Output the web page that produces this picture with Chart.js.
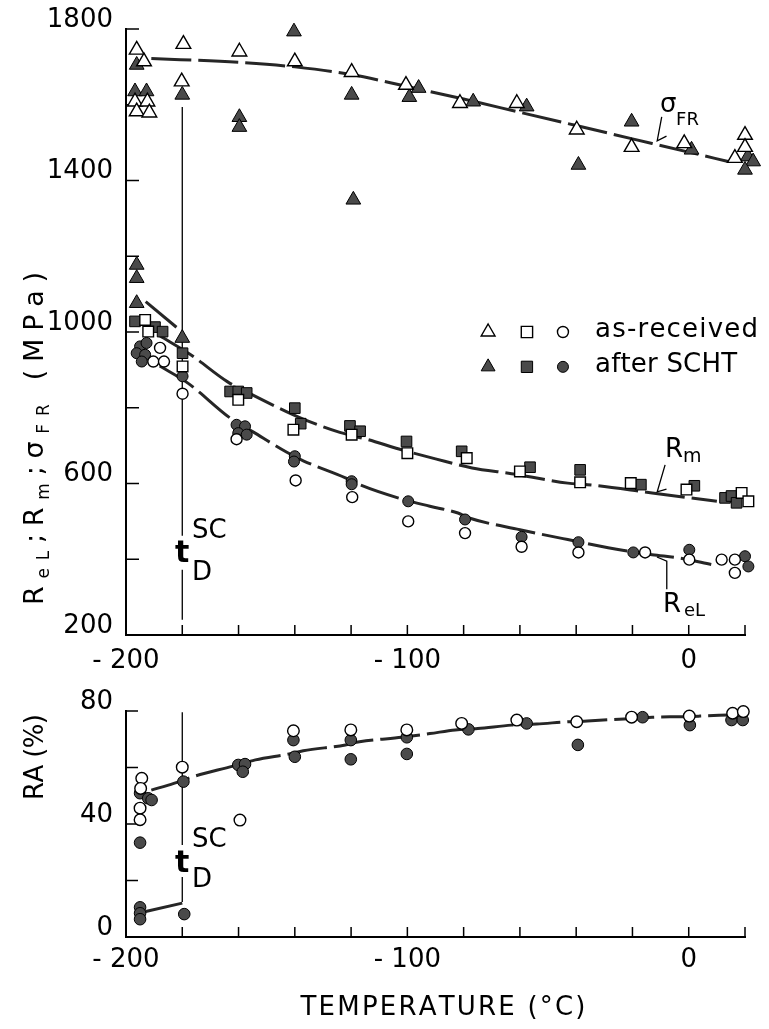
<!DOCTYPE html>
<html>
<head>
<meta charset="utf-8">
<script src="https://cdn.jsdelivr.net/npm/chart.js@4/dist/chart.umd.min.js"></script>
<style>
  body { margin: 0; background: #fff; }
  #wrap { position: relative; width: 769px; height: 1029px; }
  canvas { position: absolute; left: 0; }
  #topChart { top: 0; width: 769px; height: 680px; }
  #raChart { top: 680px; width: 769px; height: 349px; }
</style>
</head>
<body>
<div id="wrap">
  <canvas id="topChart" width="769" height="680"></canvas>
  <canvas id="raChart" width="769" height="349"></canvas>
</div>
<script>
const FONT = '"DejaVu Sans", sans-serif';

// ---- values (temperature in °C) ----

// sigma_FR, as-received (open triangles)
const sfrRecX = [-196.2, -193.6, -179.6, -159.7, -140.0, -119.8, -100.5, -196.8, -192.4, -196.2, -191.7, -180.2, -81.3, -61.1, -39.8, -20.3, -1.6, 20.0, 20.0, 16.4];
const sfrRecY = [1745, 1714, 1760, 1740, 1714, 1686, 1652, 1608, 1608, 1582, 1579, 1661, 1604, 1604, 1534, 1488, 1498, 1520, 1488, 1459];
// sigma_FR, after SCHT (filled triangles)
const sfrSchtX = [-196.2, -196.8, -192.7, -180.0, -159.7, -159.7, -140.3, -119.8, -119.2, -96.0, -99.3, -76.6, -57.6, -39.2, -20.3, 1.0, 21.0, 22.9, 20.0, -196.2, -196.2, -196.2, -180.0];
const sfrSchtY = [1705, 1635, 1635, 1626, 1567, 1541, 1793, 1626, 1349, 1644, 1620, 1608, 1595, 1441, 1555, 1481, 1463, 1450, 1428, 1177, 1142, 1076, 984];

// Rm (squares)
const rmRecX = [-193.2, -192.1, -179.9, -160.1, -140.5, -119.8, -100.0, -78.9, -60.0, -38.6, -20.6, -0.8, 18.8, 21.2, 21.8];
const rmRecY = [1032, 1001, 909, 821, 742, 729, 680, 667, 632, 603, 601, 584, 575, 553, 531];
const rmSchtX = [-196.8, -189.7, -187.0, -179.9, -163.0, -160.1, -157.1, -140.0, -137.9, -120.4, -116.8, -100.3, -80.7, -56.4, -38.6, -17.0, 2.0, 12.9, 15.2, 17.0];
const rmSchtY = [1028, 1013, 1001, 944, 843, 843, 839, 799, 758, 752, 738, 711, 685, 643, 636, 597, 594, 562, 567, 549];

// ReL (circles)
const relRecX = [-187.9, -190.3, -186.5, -179.9, -160.7, -139.7, -119.6, -99.7, -79.5, -59.4, -39.2, -15.5, 0.2, 11.7, 16.4, 16.4];
const relRecY = [958, 922, 922, 837, 717, 608, 564, 500, 469, 433, 418, 418, 399, 399, 399, 364];
const relSchtX = [-195.0, -196.2, -193.2, -194.4, -192.7, -179.9, -160.7, -157.7, -160.1, -157.1, -140.0, -140.3, -119.8, -119.8, -99.7, -79.5, -59.4, -39.2, -19.7, 0.2, 20.0, 24.7, 21.2];
const relSchtY = [962, 944, 940, 922, 971, 883, 755, 751, 733, 729, 672, 658, 606, 598, 553, 505, 459, 445, 418, 425, 408, 406, 381];

// hand-drawn trend curves
const sfrFitX = [-191, -160, -140, -120, -100, -80, -60, -40, -20, 0, 14];
const sfrFitY = [1722, 1712, 1700, 1680, 1648, 1615, 1580, 1545, 1510, 1475, 1450];
const sfrLowFitX = [-193, -181];
const sfrLowFitY = [1080, 1006];
const rmFitX = [-188, -177, -164, -154, -143, -135, -124, -114, -103, -90, -77, -63, -56, -43, -36, -13, 10];
const rmFitY = [990, 940, 869, 830, 790, 764, 735, 716, 691, 665, 641, 626, 617, 601, 597, 575, 553];
const relFitX = [-188, -178, -163, -155, -143, -137, -122, -117, -102, -92, -82, -78, -60, -43, -23, -13, -3, 8];
const relFitY = [910, 865, 773, 737, 683, 660, 615, 597, 559, 540, 522, 509, 478, 452, 423, 412, 403, 386];

// RA (%)
const raRecX = [-194.4, -194.8, -195.0, -195.0, -180.0, -159.5, -140.5, -120.1, -100.2, -80.7, -61.1, -39.8, -20.3, 0.2, 15.6, 19.4, 23.2];
const raRecY = [56.2, 52.6, 45.6, 41.5, 60.1, 41.4, 73.0, 73.3, 73.3, 75.6, 76.8, 76.2, 77.8, 78.2, 79.2, 79.8, 79.2];
const raSchtX = [-195.0, -192.1, -190.9, -195.0, -179.6, -160.1, -157.7, -158.5, -140.5, -140.0, -120.1, -120.1, -100.2, -100.2, -78.3, -57.6, -39.4, -16.4, 0.4, 15.2, 19.2, 23.0, -195.0, -195.0, -195.0, -179.3];
const raSchtY = [50.9, 49.1, 48.5, 33.4, 55.0, 60.9, 61.2, 58.5, 69.7, 63.8, 69.7, 62.9, 70.7, 64.8, 73.5, 75.6, 68.0, 77.8, 75.0, 76.8, 76.8, 76.6, 10.5, 8.4, 6.3, 8.1];
const raFitX = [-191, -183, -177, -162, -154, -142, -137, -122, -117, -102, -92, -83, -75, -63, -54, -43, -36, -23, -13, -2, 4, 14];
const raFitY = [52, 54.4, 56.5, 60.5, 62.7, 64.8, 65.9, 68, 69.1, 70.7, 72, 73.3, 73.8, 75, 75.4, 76.2, 76.5, 77.2, 77.8, 78, 78.2, 78.6];
const raLowFitX = [-193, -180];
const raLowFitY = [9, 12];

// axis ticks
const tempLabels = [-200, -100, 0];
const tD = -180; // t_D^SC

// ---- helpers ----
function pts(xs, ys) {
    return xs.map((x, i) => ({ x: x, y: ys[i] }));
}

function markers(label, xs, ys, style, filled, r) {
    return {
        label: label,
        data: pts(xs, ys),
        showLine: false,
        pointStyle: style,
        pointRadius: r,
        pointHoverRadius: r,
        pointBackgroundColor: filled ? '#4a4a4a' : '#ffffff',
        pointBorderColor: '#000',
        pointBorderWidth: filled ? 1 : 1.4,
        clip: false
    };
}

function trend(xs, ys) {
    return {
        data: pts(xs, ys),
        showLine: true,
        pointRadius: 0,
        borderColor: '#262626',
        borderWidth: 3,
        borderDash: [40, 7],
        cubicInterpolationMode: 'monotone',
        fill: false,
        clip: false
    };
}

function tempTick(v) {
    if (!tempLabels.includes(v)) return '';
    return v < 0 ? '- ' + Math.abs(v) : String(v);
}

// text with even letter spacing stretched to a given width
function spacedText(ctx, parts, x, y, width) {
    let natural = 0, n = 0;
    parts.forEach(p => {
        ctx.font = p[1];
        for (const ch of p[0]) { natural += ctx.measureText(ch).width; n++; }
    });
    const gap = width ? (width - natural) / Math.max(n - 1, 1) : 0;
    let cx = x;
    parts.forEach(p => {
        ctx.font = p[1];
        for (const ch of p[0]) {
            ctx.fillText(ch, cx, y + (p[2] || 0));
            cx += ctx.measureText(ch).width + gap;
        }
    });
}

function drawMarker(ctx, style, x, y, r, filled) {
    ctx.save();
    ctx.fillStyle = filled ? '#4a4a4a' : '#fff';
    ctx.strokeStyle = '#000';
    ctx.lineWidth = filled ? 1 : 1.4;
    ctx.beginPath();
    if (style === 'triangle') {
        ctx.moveTo(x, y - r);
        ctx.lineTo(x + r * 0.866, y + r * 0.5);
        ctx.lineTo(x - r * 0.866, y + r * 0.5);
        ctx.closePath();
    } else if (style === 'rect') {
        const s = r * 0.707;
        ctx.rect(x - s, y - s, 2 * s, 2 * s);
    } else {
        ctx.arc(x, y, r, 0, Math.PI * 2);
    }
    ctx.fill();
    ctx.stroke();
    ctx.restore();
}

function inwardTicks(chart, xStep, yStep, xLen, yLen) {
    const { ctx, chartArea: a, scales: { x, y } } = chart;
    ctx.save();
    ctx.strokeStyle = '#000';
    ctx.lineWidth = 1.5;
    ctx.beginPath();
    for (let v = x.min + xStep; v <= x.max + 0.01; v += xStep) {
        const px = x.getPixelForValue(v);
        ctx.moveTo(px, a.bottom);
        ctx.lineTo(px, a.bottom - xLen);
    }
    for (let v = y.min + yStep; v <= y.max + 0.01; v += yStep) {
        const py = y.getPixelForValue(v);
        ctx.moveTo(a.left, py);
        ctx.lineTo(a.left + yLen, py);
    }
    ctx.stroke();
    ctx.restore();
}

function vSegments(chart, xv, segs) {
    const { ctx, scales: { x, y } } = chart;
    const px = x.getPixelForValue(xv);
    ctx.save();
    ctx.strokeStyle = '#000';
    ctx.lineWidth = 1.3;
    ctx.beginPath();
    segs.forEach(s => {
        ctx.moveTo(px, y.getPixelForValue(s[0]));
        ctx.lineTo(px, y.getPixelForValue(s[1]));
    });
    ctx.stroke();
    ctx.restore();
}

function tScD(chart, tBase, scBase, dBase) {
    const { ctx, scales: { x, y } } = chart;
    ctx.save();
    ctx.fillStyle = '#000';
    ctx.textBaseline = 'alphabetic';
    ctx.textAlign = 'center';
    ctx.font = 'bold 30px ' + FONT;
    ctx.fillText('t', x.getPixelForValue(tD), y.getPixelForValue(tBase));
    ctx.textAlign = 'left';
    ctx.font = '26px ' + FONT;
    ctx.fillText('SC', x.getPixelForValue(tD + 3.5), y.getPixelForValue(scBase));
    ctx.fillText('D', x.getPixelForValue(tD + 3.5), y.getPixelForValue(dBase));
    ctx.restore();
}

function leader(ctx, x, y, p) {
    ctx.beginPath();
    ctx.moveTo(x.getPixelForValue(p[0][0]), y.getPixelForValue(p[0][1]));
    for (let i = 1; i < p.length; i++) ctx.lineTo(x.getPixelForValue(p[i][0]), y.getPixelForValue(p[i][1]));
    ctx.stroke();
}

// ---- top panel decorations ----
const topDecor = {
    id: 'topDecor',
    beforeDatasetsDraw(chart) {
        inwardTicks(chart, 20, 200, 10, 13);
        vSegments(chart, tD, [[1594, 462], [372, 240]]);
    },
    afterDraw(chart) {
        const { ctx, scales: { x, y } } = chart;
        tScD(chart, 393, 456, 345);

        ctx.save();
        ctx.fillStyle = '#000';
        ctx.strokeStyle = '#000';
        ctx.lineWidth = 1.3;
        ctx.textAlign = 'left';
        ctx.textBaseline = 'alphabetic';

        // curve labels
        ctx.font = '26px ' + FONT;
        ctx.fillText('σ', x.getPixelForValue(-10.2), y.getPixelForValue(1581));
        ctx.font = '18px ' + FONT;
        ctx.fillText('FR', x.getPixelForValue(-4.5), y.getPixelForValue(1547));
        leader(ctx, x, y, [[-9.6, 1568], [-11.2, 1505], [-7.9, 1517]]);

        ctx.font = '26px ' + FONT;
        ctx.fillText('R', x.getPixelForValue(-8.4), y.getPixelForValue(670));
        ctx.font = '19px ' + FONT;
        ctx.fillText('m', x.getPixelForValue(-2.0), y.getPixelForValue(657));
        leader(ctx, x, y, [[-8.4, 649], [-11.2, 578], [-7.9, 585]]);

        ctx.font = '26px ' + FONT;
        ctx.fillText('R', x.getPixelForValue(-9.1), y.getPixelForValue(261));
        ctx.font = '18px ' + FONT;
        ctx.fillText('eL', x.getPixelForValue(-1.7), y.getPixelForValue(249));
        leader(ctx, x, y, [[-7.8, 321], [-7.8, 395], [-11.3, 406]]);

        // legend
        const rows = [[1000, false, 'as-received'], [908, true, 'after SCHT']];
        rows.forEach(r => {
            const py = y.getPixelForValue(r[0]);
            drawMarker(ctx, 'triangle', x.getPixelForValue(-71.3), py, 8, r[1]);
            drawMarker(ctx, 'rect', x.getPixelForValue(-57.5), py, 8, r[1]);
            drawMarker(ctx, 'circle', x.getPixelForValue(-44.7), py, 5.5, r[1]);
            ctx.fillStyle = '#000';
            spacedText(ctx, [[r[2], '26px ' + FONT]], x.getPixelForValue(-33.3), py + 5, r[1] ? 142 : 163);
        });

        // y title
        ctx.translate(43, 605);
        ctx.rotate(-Math.PI / 2);
        const big = '27px ' + FONT, sub = '17px ' + FONT;
        spacedText(ctx, [['R', big], ['eL', sub, 6], [';', big], ['R', big], ['m', sub, 6], [';', big],
            ['σ', big], ['FR', sub, 6], [' (MPa)', big]], 0, 0, 333);
        ctx.restore();
    }
};

// ---- RA panel decorations ----
const raDecor = {
    id: 'raDecor',
    beforeDatasetsDraw(chart) {
        inwardTicks(chart, 20, 20, 10, 12);
        vSegments(chart, tD, [[79.6, 32.6], [21.2, 12.4]]);
    },
    afterDraw(chart) {
        const { ctx, chartArea: a } = chart;
        tScD(chart, 23, 31.9, 17.7);
        ctx.save();
        ctx.fillStyle = '#000';
        ctx.textAlign = 'left';
        ctx.textBaseline = 'alphabetic';
        ctx.save();
        ctx.translate(43, 120);
        ctx.rotate(-Math.PI / 2);
        spacedText(ctx, [['RA (%)', '26px ' + FONT]], 0, 0, 86);
        ctx.restore();
        const cx = (a.left + a.right) / 2 + 7;
        spacedText(ctx, [['TEMPERATURE (°C)', '26px ' + FONT]], cx - 142, a.bottom + 78, 285);
        ctx.restore();
    }
};

function baseScales(yMin, yMax, yStep, xPad, xHeight) {
    const tickFont = { family: FONT, size: 26 };
    return {
        x: {
            type: 'linear', min: -200, max: 20,
            afterFit: s => { s.height = xHeight; },
            grid: { display: false, drawTicks: false },
            border: { display: true, color: '#000', width: 2 },
            ticks: { stepSize: 100, padding: xPad, color: '#000', font: tickFont, maxRotation: 0, autoSkip: false, callback: tempTick }
        },
        y: {
            type: 'linear', min: yMin, max: yMax,
            afterFit: s => { s.width = 126; },
            grid: { display: false, drawTicks: false },
            border: { display: true, color: '#000', width: 2 },
            ticks: { stepSize: yStep, padding: 13, labelOffset: -9, color: '#000', font: tickFont, callback: v => String(v) }
        }
    };
}

new Chart(document.getElementById('topChart'), {
    type: 'scatter',
    data: {
        datasets: [
            markers('σFR as-received', sfrRecX, sfrRecY, 'triangle', false, 8.5),
            markers('σFR after SCHT', sfrSchtX, sfrSchtY, 'triangle', true, 8.5),
            markers('Rm as-received', rmRecX, rmRecY, 'rect', false, 7.5),
            markers('Rm after SCHT', rmSchtX, rmSchtY, 'rect', true, 7.5),
            markers('ReL as-received', relRecX, relRecY, 'circle', false, 5.5),
            markers('ReL after SCHT', relSchtX, relSchtY, 'circle', true, 5.5),
            trend(sfrFitX, sfrFitY),
            trend(sfrLowFitX, sfrLowFitY),
            trend(rmFitX, rmFitY),
            trend(relFitX, relFitY)
        ]
    },
    options: {
        responsive: false,
        animation: false,
        layout: { padding: { top: 29, right: 24, left: 0, bottom: 0 } },
        plugins: { legend: { display: false }, tooltip: { enabled: false } },
        scales: baseScales(200, 1800, 400, 11, 45)
    },
    plugins: [topDecor]
});

new Chart(document.getElementById('raChart'), {
    type: 'scatter',
    data: {
        datasets: [
            markers('RA as-received', raRecX, raRecY, 'circle', false, 5.8),
            markers('RA after SCHT', raSchtX, raSchtY, 'circle', true, 5.8),
            trend(raFitX, raFitY),
            trend(raLowFitX, raLowFitY)
        ]
    },
    options: {
        responsive: false,
        animation: false,
        layout: { padding: { top: 31, right: 24, left: 0, bottom: 0 } },
        plugins: { legend: { display: false }, tooltip: { enabled: false } },
        scales: baseScales(0, 80, 40, 8, 92)
    },
    plugins: [raDecor]
});
</script>
</body>
</html>
